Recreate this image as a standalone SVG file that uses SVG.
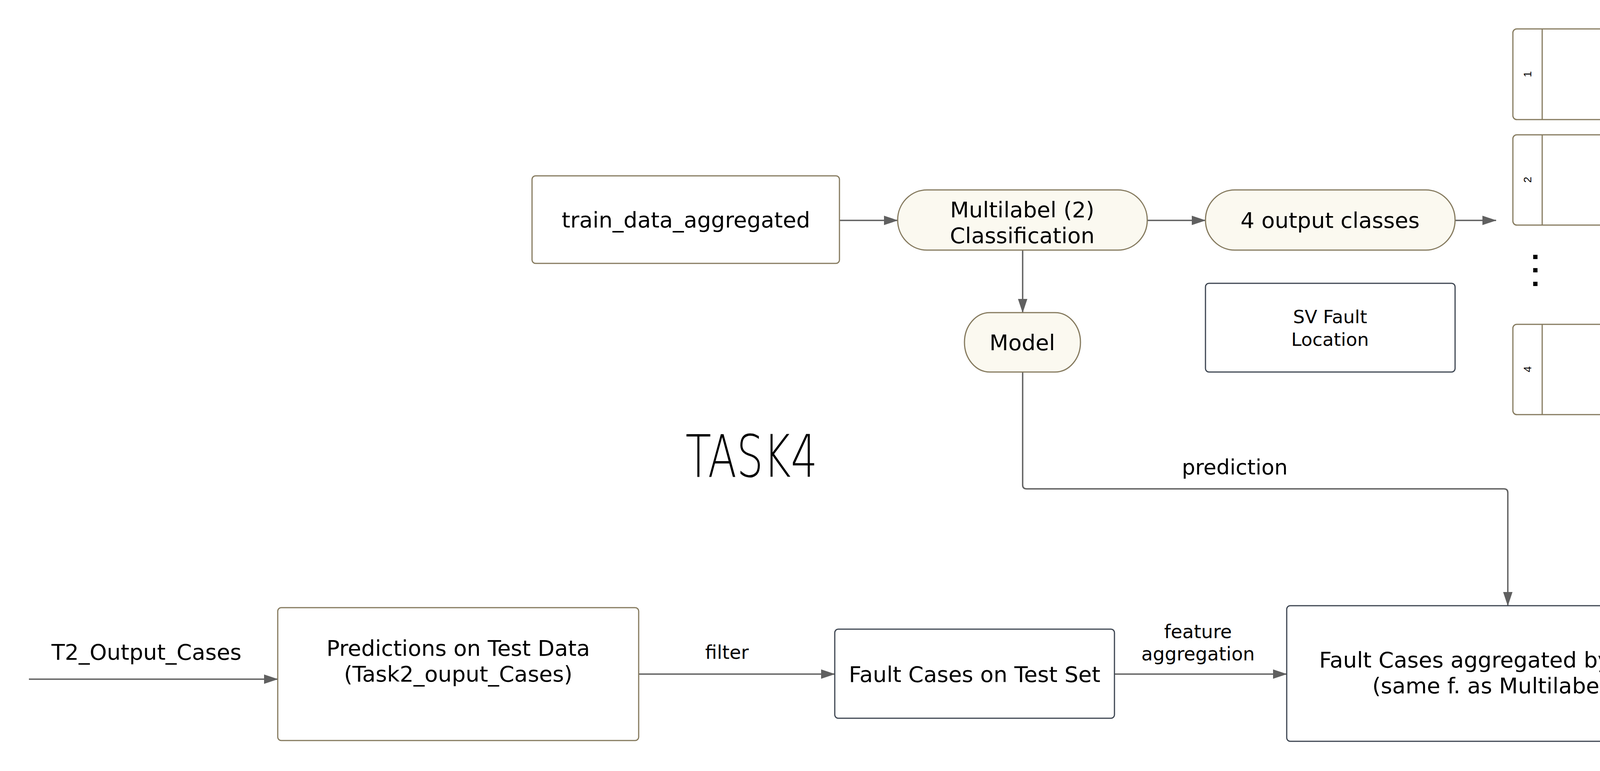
<svg xmlns="http://www.w3.org/2000/svg" width="6342" height="1973" viewBox="0 0 6342 1973">
<style>
.n{fill:#ffffff;stroke:#857a5e;stroke-width:3}
.s{fill:#fbf9f0;stroke:#857a5e;stroke-width:3}
.d{fill:#ffffff;stroke:#3c4450;stroke-width:3}
.t{font-family:'DejaVu Sans','Liberation Sans',sans-serif;font-size:56px;fill:#000000;text-anchor:middle}
.sm{font-size:47px}
.e{font-size:48px}
.num{font-family:'Liberation Sans',Arial,sans-serif;font-size:28px;fill:#000000;text-anchor:middle;dominant-baseline:central}
.c{fill:none;stroke:#606060;stroke-width:3.5}
.ln{stroke:#857a5e;stroke-width:3}
</style>
<defs>
<marker id="a" markerUnits="userSpaceOnUse" markerWidth="36" markerHeight="24" viewBox="0 0 36 24" refX="35" refY="12" orient="auto"><path d="M0,0L36,12L0,24z" fill="#606060"/></marker>
</defs>
<rect x="0" y="0" width="6342" height="1973" fill="#ffffff"/>

<g id="connectors">
<path class="c" d="M2149,564H2298" marker-end="url(#a)"/>
<path class="c" d="M2937,564H3086" marker-end="url(#a)"/>
<path class="c" d="M3725,564H3830" marker-end="url(#a)"/>
<path class="c" d="M2618,640V800" marker-end="url(#a)"/>
<path class="c" d="M2618,952V1241Q2618,1251 2628,1251H3850Q3860,1251 3860,1261V1550" marker-end="url(#a)"/>
<path class="c" d="M74,1738H711" marker-end="url(#a)"/>
<path class="c" d="M1635,1725H2137" marker-end="url(#a)"/>
<path class="c" d="M2853,1725H3294" marker-end="url(#a)"/>
<path class="c" d="M4427,1723H4957" marker-end="url(#a)"/>
<text class="t" x="3161" y="1214" style="font-size:54px">prediction</text>
<text class="t" x="375" y="1688">T2_Output_Cases</text>
<text class="t e" x="1861" y="1686">filter</text>
<text class="t e" x="3067" y="1633">feature</text>
<text class="t e" x="3067" y="1690">aggregation</text>
<text class="t e" x="4693" y="1681">output</text>
</g>

<g id="train_data_aggregated">
<rect class="n" x="1362" y="450" width="787" height="224" rx="9"/>
<text class="t" x="1756" y="582">train_data_aggregated</text>
</g>
<g id="multilabel">
<rect class="s" x="2298" y="486" width="639" height="154" rx="75" ry="77"/>
<text class="t" x="2617" y="556">Multilabel (2)</text>
<text class="t" x="2617" y="622">Classification</text>
</g>
<g id="output_classes">
<rect class="s" x="3086" y="486" width="639" height="154" rx="75" ry="77"/>
<text class="t" x="3405" y="583">4 output classes</text>
</g>
<g id="model">
<rect class="s" x="2469" y="800" width="297" height="152" rx="65" ry="76"/>
<text class="t" x="2617" y="896">Model</text>
</g>
<g id="sv_fault_location">
<rect class="d" x="3086" y="725" width="639" height="227" rx="9"/>
<text class="t sm" x="3405" y="827">SV Fault</text>
<text class="t sm" x="3405" y="885">Location</text>
</g>

<g id="sv1">
<rect class="n" x="3873" y="74" width="2250" height="232" rx="10"/>
<line class="ln" x1="3948" y1="74" x2="3948" y2="306"/>
<text class="num" transform="translate(3910,190) rotate(-90)">1</text>
<text class="t" x="5035" y="212">Solenoid Valve 1 Fault</text>
</g>
<g id="sv2">
<rect class="n" x="3873" y="345" width="2250" height="231" rx="10"/>
<line class="ln" x1="3948" y1="345" x2="3948" y2="576"/>
<text class="num" transform="translate(3910,460) rotate(-90)">2</text>
<text class="t" x="5035" y="482">Solenoid Valve 2 Fault</text>
</g>
<g id="dots">
<rect x="3925" y="652" width="11" height="11" fill="#000000"/>
<rect x="3925" y="686" width="11" height="11" fill="#000000"/>
<rect x="3925" y="721" width="11" height="11" fill="#000000"/>
</g>
<g id="sv3">
<rect class="n" x="3873" y="830" width="2250" height="231" rx="10"/>
<line class="ln" x1="3948" y1="830" x2="3948" y2="1061"/>
<text class="num" transform="translate(3910,945) rotate(-90)">4</text>
<text class="t" x="5035" y="967">Solenoid Valve 3 Fault</text>
</g>

<g id="task4">
<text x="1924" y="1220" text-anchor="middle" textLength="338" lengthAdjust="spacingAndGlyphs" style="font-family:'DejaVu Sans','Liberation Sans',sans-serif;font-size:150px;font-weight:200;fill:#000000">TASK4</text>
</g>

<g id="predictions_test">
<rect class="n" x="711" y="1555" width="924" height="340" rx="9"/>
<text class="t" x="1173" y="1678">Predictions on Test Data</text>
<text class="t" x="1173" y="1744">(Task2_ouput_Cases)</text>
</g>
<g id="fault_cases_test">
<rect class="d" x="2137" y="1610" width="716" height="228" rx="9"/>
<text class="t" x="2495" y="1745">Fault Cases on Test Set</text>
</g>
<g id="fault_cases_aggregated">
<rect class="d" x="3294" y="1550" width="1133" height="347" rx="9"/>
<text class="t" x="3860" y="1708">Fault Cases aggregated by feature</text>
<text class="t" x="3860" y="1774">(same f. as Multilabel (2)</text>
</g>
<g id="sv_location_predictions">
<rect class="s" x="4957" y="1612" width="1312" height="194" rx="85" ry="97"/>
<text class="t sm" x="5613" y="1727">SV Location Predictions on Fault Cases in Test Data</text>
</g>
</svg>
